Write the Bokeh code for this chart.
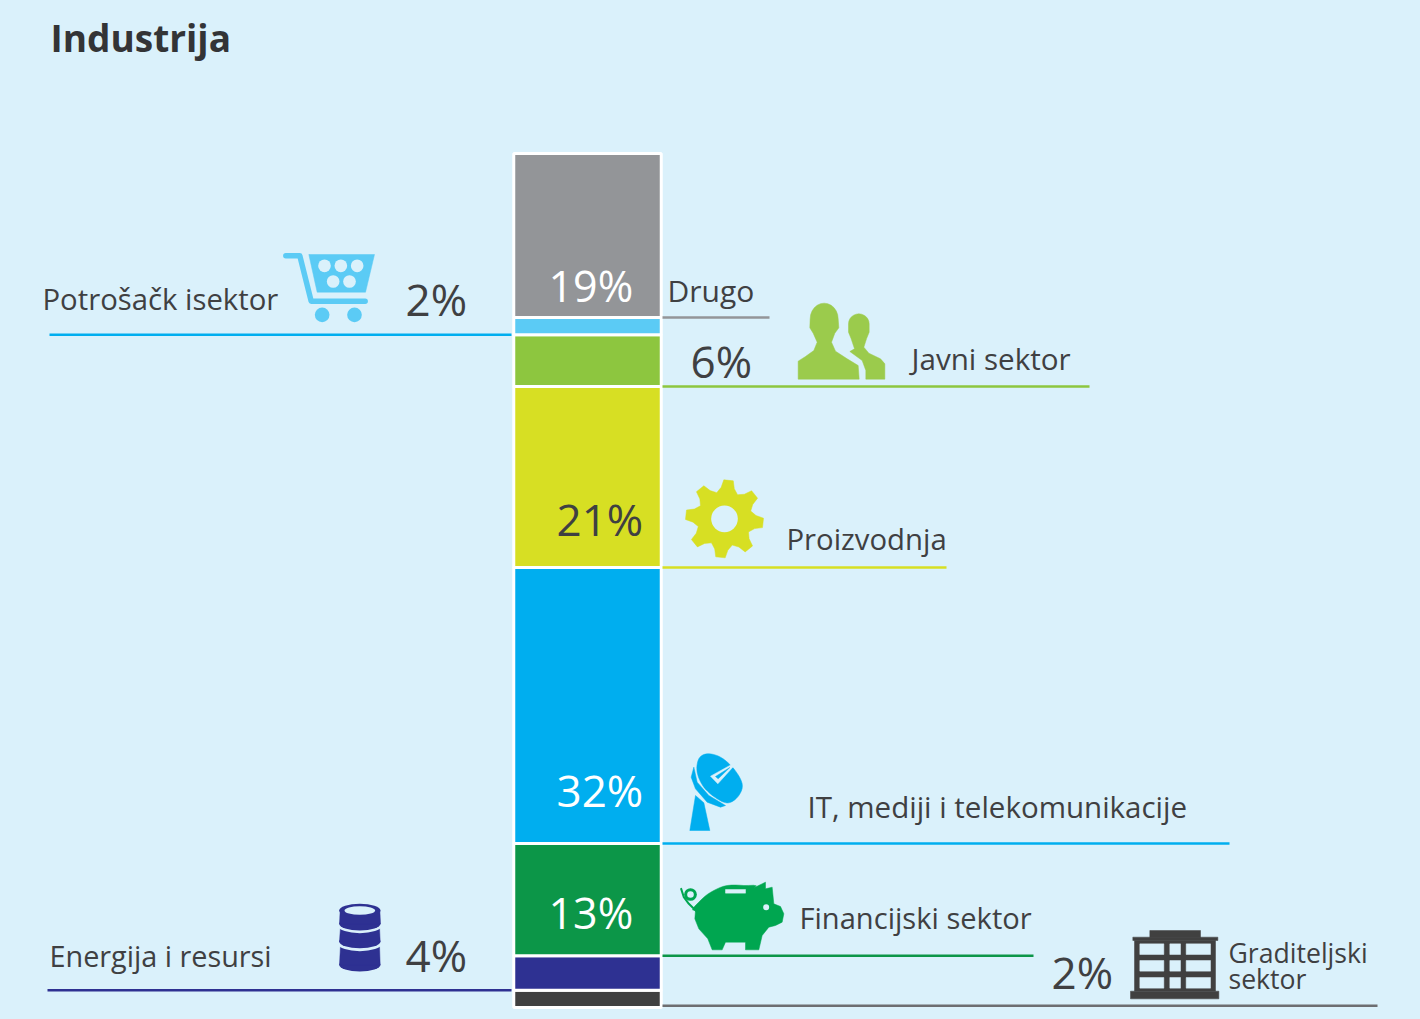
import math
from bokeh.plotting import figure
from bokeh.models import Range1d
from bokeh.core.properties import value
from bokeh.embed import file_html
from bokeh.resources import INLINE

# ---- data (stack order: bottom to top) ----
categories = ["Graditeljski sektor", "Energija i resursi", "Financijski sektor",
              "IT, mediji i telekomunikacije", "Proizvodnja", "Javni sektor",
              "Potrošačk isektor", "Drugo"]
shares = [2, 4, 13, 32, 21, 6, 2, 19]
share_labels = ["2%", "4%", "13%", "32%", "21%", "6%", "2%", "19%"]
title = "Industrija"

# ---- styles ----
BG = "#daf1fb"
TXT = "#3f4042"
FONT = "Open Sans"
bar_colors = ["#404040", "#2e3192", "#0c9648", "#00aeef", "#d7df23", "#8dc63f", "#5bcbf5", "#939598"]
line_colors = ["#6d6e71", "#2e3192", "#0c9648", "#00aeef", "#d7df23", "#8dc63f", "#00aeef", "#939598"]
# leader line extents in page pixels
leader_x = [(662, 1377), (47, 511), (662, 1033), (662, 1229), (662, 946), (662, 1089), (49, 511), (662, 769)]
cat_pos = [None, (49, 968), (799, 931), (807, 819), (786, 552), (911, 371), (42, 312), (667, 303)]
cat_size = [None, 28.8, 29.1, 29.5, 29.3, 29.6, 29.3, 30]
pct_pos = [(1051, 991), (405, 974), (548, 931), (556, 809), (556, 538), (690, 380), (405, 318), (548, 304)]
pct_size = [44, 44, 43, 44, 44, 44, 44, 43]
pct_col = [TXT, TXT, "#ffffff", "#ffffff", TXT, TXT, TXT, "#ffffff"]

W, H = 1420, 1019
BASE, TOP = 1007.0, 153.0             # page pixels of 0 and 99
unit = (BASE - TOP) / sum(shares)

p = figure(width=W, height=H, output_backend="svg", toolbar_location=None,
           x_range=Range1d(0, W),
           y_range=Range1d((BASE - H) / unit, BASE / unit),
           min_border=0, background_fill_color=BG, border_fill_color=BG, outline_line_color=None)
p.axis.visible = False
p.grid.visible = False
p.extra_y_ranges = {"px": Range1d(H, 0)}

bottoms, tops = [], []
c = 0
for s in shares:
    bottoms.append(c)
    c += s
    tops.append(c)

p.vbar(x=587, width=147.5, bottom=bottoms, top=tops, fill_color=bar_colors,
       line_color="#ffffff", line_width=3)

for i, (x0, x1) in enumerate(leader_x):
    y = bottoms[i] if i else 0.2
    p.line([x0, x1], [y, y], line_color=line_colors[i], line_width=2.5)


def txt(x, y, s, size, color=TXT, style="normal"):
    # the renderer sets "alphabetic" text lower than its anchor, by a share of the font size
    p.text([x], [y - 0.45 * size], text=[s], y_range_name="px", text_font=value(FONT),
           text_font_size=f"{size}px", text_color=color, text_baseline="alphabetic",
           text_align="left", text_font_style=style)


txt(50, 54, title, 37, "#333436", "bold")
for i, pos in enumerate(cat_pos):
    if pos:
        txt(pos[0], pos[1], categories[i], cat_size[i])
w1, w2 = categories[0].split(" ")
txt(1228, 964, w1, 26.6)
txt(1228, 990, w2, 26.6)
for i, pos in enumerate(pct_pos):
    txt(pos[0], pos[1], share_labels[i], pct_size[i], pct_col[i])


# ---- pictograms, in 3x crop coordinates relative to an origin ----
def smooth(pts, n=6):
    out = []
    m = len(pts)
    for i in range(m):
        a, b, c2, d = pts[i - 1], pts[i], pts[(i + 1) % m], pts[(i + 2) % m]
        for k in range(n):
            t = k / n
            f = lambda j: 0.5 * (2 * b[j] + (c2[j] - a[j]) * t + (2 * a[j] - 5 * b[j] + 4 * c2[j] - d[j]) * t * t
                                 + (3 * b[j] - a[j] - 3 * c2[j] + d[j]) * t ** 3)
            out.append((f(0), f(1)))
    return out


def poly(o, pts, color):
    p.patch([o[0] + a / 3 for a, b in pts], [o[1] + b / 3 for a, b in pts],
            y_range_name="px", fill_color=color, line_color=color, line_width=0.5)


def disc(o, cx, cy, rx, ry, color):
    p.ellipse([o[0] + cx / 3], [o[1] + cy / 3], width=2 * rx / 3, height=2 * ry / 3,
              y_range_name="px", fill_color=color, line_color=None)


def stroke(o, pts, color, w):
    p.line([o[0] + a / 3 for a, b in pts], [o[1] + b / 3 for a, b in pts], y_range_name="px",
           line_color=color, line_width=w, line_cap="round", line_join="round")


# cart
o = (270, 240)
CC = "#5bcbf5"
poly(o, [(115, 42), (312, 42), (285, 155), (140, 155)], CC)
stroke(o, [(46, 46), (88, 46), (122, 182), (284, 182)], CC, 5.5)
for cx, cy in [(162, 76), (211, 76), (260, 76), (188, 123), (237, 123)]:
    disc(o, cx, cy, 19, 19, BG)
for cx in (155, 252):
    disc(o, cx, 223, 22, 22, CC)

# persons
o = (780, 290)
CC = "#9bcb4c"
poly(o, [(208, 183), (222, 175), (212, 145), (204, 125)] +
     [(235 + 31 * math.cos(math.radians(a)), 100 + 30 * math.sin(math.radians(a))) for a in range(180, 361, 15)] +
     [(266, 125), (258, 145), (250, 170), (265, 188), (300, 205), (313, 220), (313, 266),
      (256, 266), (256, 240), (245, 210)], CC)
poly(o, [(53, 266), (53, 212), (75, 198), (100, 180), (110, 155), (98, 128), (88, 112)] +
     [(131 + 42 * math.cos(math.radians(a)), 85 + 47 * math.sin(math.radians(a))) for a in range(180, 361, 15)] +
     [(175, 112), (163, 128), (153, 155), (165, 182), (200, 205), (233, 225), (236, 266)], CC)

# gear
o = (670, 470)
CC = "#d7df23"
gear = []
for k in range(8):
    a = -84 + 45 * k
    for da, r in [(-7, 117), (7, 117), (12, 95), (22.5, 82), (33, 95)]:
        gear.append((162 + r * math.cos(math.radians(a + da)), 145 + r * math.sin(math.radians(a + da))))
poly(o, gear, CC)
disc(o, 162, 145, 40, 40, BG)

# dish
o = (670, 745)
CC = "#00aeef"
poly(o, smooth([(85, 40), (110, 25), (150, 35), (190, 70), (215, 115), (205, 150), (175, 172), (140, 160),
                (100, 125), (80, 80)]), CC)
poly(o, [(70, 65), (80, 110), (115, 150), (165, 180), (150, 185), (110, 170), (75, 130), (62, 95)], CC)
poly(o, [(75, 150), (100, 172), (118, 255), (58, 255)], CC)
poly(o, [(205, 45), (142, 115), (120, 92)], BG)
poly(o, [(178, 66), (143, 100), (135, 93)], CC)

# pig
o = (670, 870)
CC = "#00a650"
poly(o, smooth([(75, 120), (95, 85), (130, 60), (170, 45), (220, 45), (250, 52)], 4)[:21] +
     [(285, 35), (285, 55), (305, 50),
      (310, 100), (330, 108), (340, 130), (335, 155), (315, 165), (295, 170), (275, 195), (265, 238),
      (225, 238), (225, 215), (165, 215), (155, 238), (125, 238), (112, 205), (85, 175), (73, 145)], CC)
poly(o, [(165, 57), (225, 57), (225, 68), (165, 68)], BG)
disc(o, 287, 110, 9, 9, BG)
stroke(o, [(78, 122), (55, 100), (40, 80), (32, 55)], CC, 2)
disc(o, 60, 72, 19, 19, CC)
disc(o, 60, 72, 10, 10, BG)

# building
o = (1120, 920)
CC = "#404040"
poly(o, [(88, 30), (240, 30), (240, 52), (88, 52)], CC)
poly(o, [(37, 50), (292, 50), (292, 60), (37, 60)], CC)
poly(o, [(42, 60), (285, 60), (285, 212), (42, 212)], CC)
poly(o, [(30, 212), (295, 212), (295, 235), (30, 235)], CC)
for x0, x1 in [(58, 130), (148, 180), (197, 270)]:
    for y0, y1 in [(70, 102), (120, 152), (171, 203)]:
        poly(o, [(x0, y0), (x1, y0), (x1, y1), (x0, y1)], BG)

# barrel
o = (330, 895)
CC = "#2e3192"
disc(o, 88, 208, 62, 20, CC)
poly(o, [(30, 150), (147, 150), (149, 208), (27, 208)], CC)
disc(o, 88, 146, 64, 21, BG)
disc(o, 88, 138, 62, 20, CC)
poly(o, [(30, 95), (147, 95), (149, 138), (27, 138)], CC)
disc(o, 88, 92, 64, 21, BG)
disc(o, 88, 85, 62, 20, CC)
poly(o, [(29, 45), (148, 45), (150, 85), (27, 85)], CC)
disc(o, 88, 45, 62, 20, CC)
disc(o, 88, 45, 46, 13, BG)

html = file_html(p, INLINE)
html = html.replace("<head>", f"<head><style>html,body{{background:{BG};overflow:hidden;}}</style>", 1)
open("out.html", "w").write(html)
